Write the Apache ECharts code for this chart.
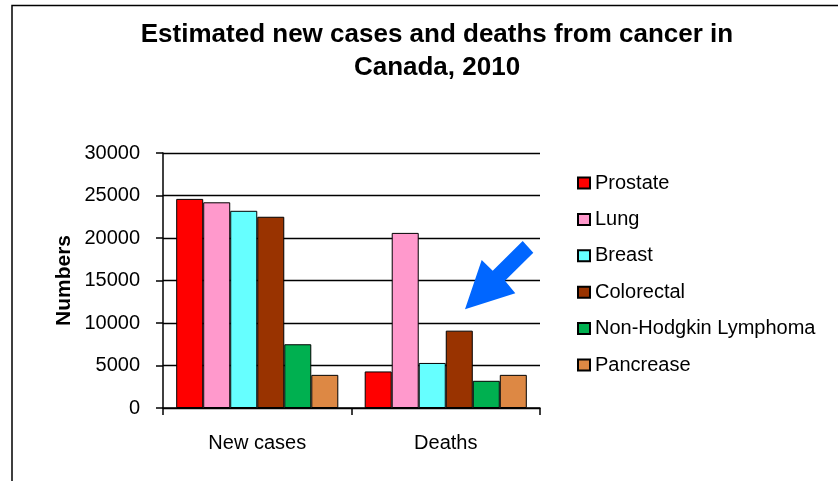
<!DOCTYPE html>
<html><head><meta charset="utf-8">
<script src="https://cdn.jsdelivr.net/npm/echarts@6/dist/echarts.min.js"></script>
<style>html,body{margin:0;padding:0;background:#fff}#c{width:838px;height:481px}</style>
</head><body><div id="c"></div>
<script>
var categories = ['New cases', 'Deaths'];
var seriesNames = ['Prostate', 'Lung', 'Breast', 'Colorectal', 'Non-Hodgkin Lymphoma', 'Pancrease'];
var prostate = [24600, 4300];
var lung = [24200, 20600];
var breast = [23200, 5300];
var colorectal = [22500, 9100];
var nhl = [7500, 3200];
var pancrease = [3900, 3900];
var colors = ['#FF0000', '#FF99CC', '#66FFFF', '#993300', '#00B050', '#DD8844'];
var yTicks = [0, 5000, 10000, 15000, 20000, 25000, 30000];

var values = [prostate, lung, breast, colorectal, nhl, pancrease];
var font = 'Liberation Sans, Arial, sans-serif';
var chart = echarts.init(document.getElementById('c'), null, {renderer: 'canvas'});
chart.setOption({
  animation: false,
  backgroundColor: '#fff',
  title: {
    text: 'Estimated new cases and deaths from cancer in\nCanada, 2010',
    left: 437, top: 18, textAlign: 'center', padding: 0,
    textStyle: {fontFamily: font, fontWeight: 'bold', fontSize: 26, lineHeight: 33, color: '#000'}
  },
  legend: {
    orient: 'vertical', left: 577, top: 172, padding: 0,
    itemWidth: 12, itemHeight: 11, itemGap: 14.4,
    icon: 'rect',
    textStyle: {fontFamily: font, fontSize: 20, color: '#000', lineHeight: 22},
    data: seriesNames
  },
  grid: {left: 163, right: 298, top: 153, bottom: 73, containLabel: false},
  xAxis: {
    type: 'category', data: categories,
    axisLine: {lineStyle: {color: '#000', width: 1.5}},
    axisTick: {show: true, length: 7, lineStyle: {color: '#000', width: 1.5}},
    axisLabel: {fontFamily: font, fontSize: 20, color: '#000', margin: 25}
  },
  yAxis: {
    type: 'value', min: yTicks[0], max: yTicks[yTicks.length-1], interval: yTicks[1]-yTicks[0],
    name: 'Numbers', nameLocation: 'middle', nameGap: 88, nameRotate: 90,
    nameTextStyle: {fontFamily: font, fontWeight: 'bold', fontSize: 21, color: '#000'},
    axisLine: {show: true, lineStyle: {color: '#000', width: 1.5}},
    axisTick: {show: true, length: 7, lineStyle: {color: '#000', width: 1.5}},
    axisLabel: {fontFamily: font, fontSize: 20, color: '#000', margin: 23,
      formatter: function(v){ return String(v); }},
    splitLine: {lineStyle: {color: '#000', width: 1.3}}
  },
  series: seriesNames.map(function(n, i){
    return {
      name: n, type: 'bar', data: values[i],
      barGap: '0%', barCategoryGap: '14%',
      itemStyle: {color: colors[i], borderColor: '#000', borderWidth: 1}
    };
  }),
  graphic: [
    {type: 'polyline', shape: {points: [[12, 481], [12, 5.5], [838, 5.5]]},
     style: {stroke: '#000', lineWidth: 1.5, fill: null}, silent: true},
    {type: 'polygon', shape: {points: [[465,309.3],[481.7,260],[492.7,270.7],[522.7,241],[533.3,252.7],[505,280.7],[515.3,293.3]]},
     style: {fill: '#0066FF'}, silent: true, z: 100}
  ]
});
</script></body></html>
